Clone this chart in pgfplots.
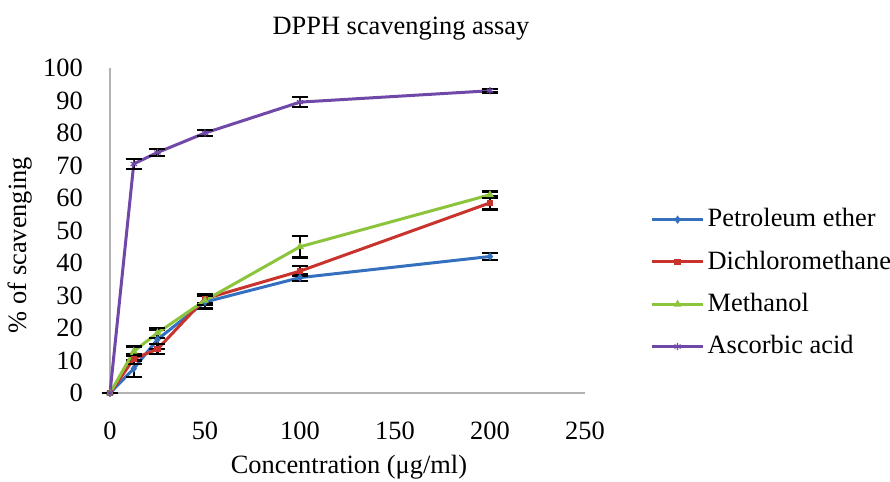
\documentclass[border=0pt]{standalone}
\usepackage{fontspec}
\setmainfont{Liberation Serif}
\usepackage{pgfplots}
\pgfplotsset{compat=1.18}

\definecolor{cPet}{RGB}{52,112,190}
\definecolor{cDcm}{RGB}{200,52,45}
\definecolor{cMeo}{RGB}{140,196,60}
\definecolor{cAsc}{RGB}{112,72,168}

% x, y, error
\pgfplotstableread{
x y e
0 0 0
12.5 7.5 2.5
25 16.5 3
50 28 2
100 35.5 1
200 42 1
}\petether
\pgfplotstableread{
x y e
0 0 0
12.5 10.5 1.5
25 13.5 1.5
50 29 1.5
100 37.5 1.5
200 58.5 2
}\dcm
\pgfplotstableread{
x y e
0 0 0
12.5 12.8 1.5
25 18.5 1.5
50 28.5 1.5
100 45 3.3
200 61 1
}\methanol
\pgfplotstableread{
x y e
0 0 0
12.5 70.5 1.5
25 74 1
50 80 1
100 89.5 1.5
200 93 0.6
}\ascorbic

\begin{document}
\fontsize{13.2}{15}\selectfont
\begin{tikzpicture}
\path[use as bounding box] (-55pt,-44.5pt) rectangle (390pt,196.5pt);
\begin{axis}[
    scale only axis,
    width=237.5pt, height=162.5pt,
    xmin=0, xmax=250, ymin=0, ymax=100,
    xtick={0,50,...,250},
    ytick={0,10,...,100},
    axis lines*=left,
    axis line style={gray!60, line width=1pt},
    major tick length=0pt,
    tick label style={font=\fontsize{13.2}{15}\selectfont},
    /pgf/number format/assume math mode=true,
    xticklabel style={yshift=-10pt},
    yticklabel style={xshift=-9pt},
    clip=false,
    title={DPPH scavenging assay},
    title style={at={(0.6126,1.083)}, anchor=center, yshift=0pt, font=\fontsize{13.2}{15}\selectfont},
    xlabel={Concentration (μg/ml)},
    xlabel style={at={(0.503,-0.228)}, anchor=center, font=\fontsize{13.2}{15}\selectfont},
    ylabel={\% of scavenging},
    ylabel style={at={(-0.19,0.455)}, anchor=center, font=\fontsize{13.2}{15}\selectfont},
    legend style={at={(1.137,0.578)}, anchor=north west, draw=none, fill=none,
        inner sep=0pt, row sep=7pt, font=\fontsize{13.2}{15}\selectfont,
        nodes={inner sep=1.5pt}},
    legend cell align=left,
    legend image code/.code={\draw[mark repeat=2,mark phase=2,#1] plot coordinates {(0cm,0cm) (0.45cm,0cm) (0.9cm,0cm)};},
    every axis plot/.append style={line width=1.5pt},
    error bars/error bar style={black, line width=1.2pt},
    error bars/error mark options={rotate=90, mark size=4pt, line width=1.2pt, black},
]
\addplot+[cPet, mark=diamond*, mark size=1.6pt, mark options={fill=cPet, line width=0.6pt},
    error bars/.cd, y dir=both, y explicit] table[x=x, y=y, y error=e] {\petether};
\addlegendentry{Petroleum ether}
\addplot+[cDcm, mark=square*, mark size=1.3pt, mark options={fill=cDcm, line width=0.6pt},
    error bars/.cd, y dir=both, y explicit] table[x=x, y=y, y error=e] {\dcm};
\addlegendentry{Dichloromethane}
\addplot+[cMeo, mark=triangle*, mark size=1.7pt, mark options={fill=cMeo, line width=0.6pt},
    error bars/.cd, y dir=both, y explicit] table[x=x, y=y, y error=e] {\methanol};
\addlegendentry{Methanol}
\addplot+[cAsc, mark=asterisk, mark size=1.8pt, mark options={line width=0.6pt},
    error bars/.cd, y dir=both, y explicit] table[x=x, y=y, y error=e] {\ascorbic};
\addlegendentry{Ascorbic acid}
\end{axis}
\end{tikzpicture}
\end{document}
